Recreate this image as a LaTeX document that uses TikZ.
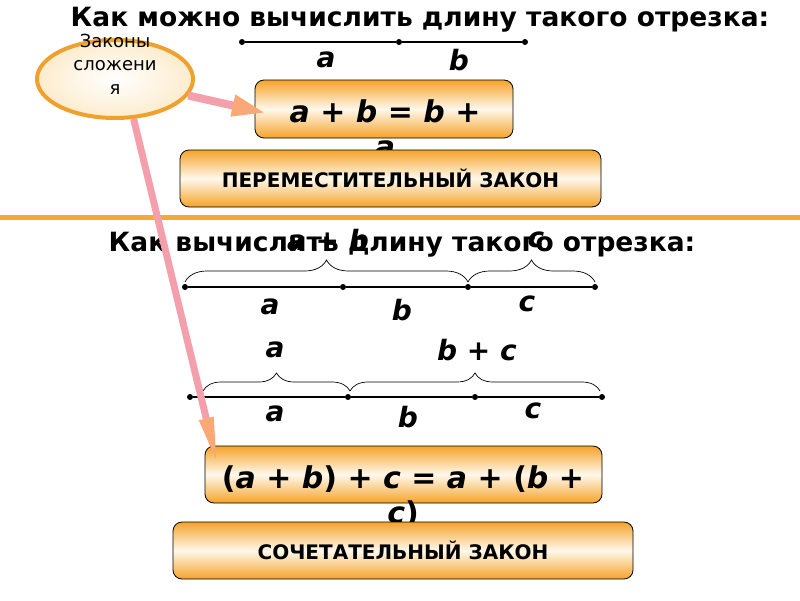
\documentclass[tikz,border=0pt]{standalone}
\usepackage{fontspec}
\setmainfont{DejaVu Sans}
\usetikzlibrary{arrows.meta}
\usetikzlibrary{shapes.geometric}
\usetikzlibrary{shadings}
\usetikzlibrary{decorations.pathreplacing}

\definecolor{rulerorange}{RGB}{243,168,58}
\definecolor{boxorange}{RGB}{245,163,42}
\definecolor{boxlight}{RGB}{255,248,236}
\definecolor{ringorange}{RGB}{240,160,45}
\definecolor{ringfill}{RGB}{252,236,205}
\definecolor{shaftpink}{RGB}{244,160,172}
\definecolor{headorange}{RGB}{249,168,118}

\tikzset{
  lawbox/.style={rectangle, rounded corners=9pt, draw=black, line width=0.8pt,
    top color=boxorange, bottom color=boxorange, middle color=boxlight, inner sep=0pt},
  lawname/.style={font=\bfseries\fontsize{20}{24}\selectfont},
  formula/.style={font=\bfseries\fontsize{30}{35}\selectfont, align=center, anchor=north, inner sep=0pt},
  question/.style={font=\bfseries\fontsize{26.5}{30}\selectfont},
  seglabel/.style={font=\bfseries\itshape\fontsize{28}{30}\selectfont},
  dot/.style={circle, fill=black, inner sep=0pt, minimum size=6pt},
  segline/.style={line width=2pt},
  brc/.style={decorate, decoration={brace, amplitude=#1}, line width=0.7pt},
  hint/.style={line width=8pt, draw=shaftpink}
}

\begin{document}
\begin{tikzpicture}[x=1pt, y=-1pt]
\useasboundingbox (0,0) rectangle (800,600);

% divider
\draw [line width=5pt, draw=rulerorange] (0,217) -- (800,217);

% the bubble
\node [ellipse, draw=ringorange, line width=4pt, inner color=white, outer color=ringfill,
  minimum width=156pt, minimum height=78pt] (laws) at (115,79) {};
\node [align=center, font=\fontsize{18}{23.5}\selectfont] (lawstext) at (115,64) {Законы\\сложени\\я};

% first question
\node [question] (q1) at (420,20) {Как можно вычислить длину такого отрезка:};
\node [dot] (t1) at (242,42) {};
\node [dot] (t2) at (399,42) {};
\node [dot] (t3) at (525,42) {};
\draw [segline] (t1) -- (t2) -- (t3);
\node [seglabel] (ta) at (326,60) {a};
\node [seglabel] (tb) at (459,60) {b};

% commutative law
\node [lawbox, minimum width=258pt, minimum height=58pt] (comm) at (384,109) {};
\node [formula] (commf) at (385,100) {\textit{a} + \textit{b} = \textit{b} +\\\textit{a}};
\node [lawbox, minimum width=421pt, minimum height=57pt] (commname) at (390.5,178.5) {};
\node [lawname] at (commname) {ПЕРЕМЕСТИТЕЛЬНЫЙ ЗАКОН};

% second question
\node [question] (q2) at (402,245) {Как вычислить длину такого отрезка:};

% first split: (a + b) + c
\node [dot] (r1) at (185,287) {};
\node [dot] (r2) at (343,287) {};
\node [dot] (r3) at (468,287) {};
\node [dot] (r4) at (595,287) {};
\draw [segline] (r1) -- (r2) -- (r3) -- (r4);
\draw [brc=22pt] (185,282) -- (468,282);
\draw [brc=22pt] (468,282) -- (595,282);
\node [seglabel] (ab) at (328,240) {a + b};
\node [seglabel] (cup) at (536,240) {c};
\node [seglabel] (ra) at (270,307) {a};
\node [seglabel] (rb) at (402,310) {b};
\node [seglabel] (rc) at (527,304) {c};

% second split: a + (b + c)
\node [dot] (s1) at (190,397) {};
\node [dot] (s2) at (348,397) {};
\node [dot] (s3) at (475,397) {};
\node [dot] (s4) at (602,397) {};
\draw [segline] (s1) -- (s2) -- (s3) -- (s4);
\draw [brc=18pt] (203,391) -- (350,391);
\draw [brc=18pt] (350,391) -- (600,391);
\node [seglabel] (aup) at (275,350) {a};
\node [seglabel] (bc) at (477,350) {b + c};
\node [seglabel] (sa) at (275,414) {a};
\node [seglabel] (sb) at (408,417) {b};
\node [seglabel] (sc) at (533,411) {c};

% associative law
\node [lawbox, minimum width=397pt, minimum height=57pt] (assoc) at (403.5,474.5) {};
\node [formula] (assocf) at (403,465) {(\textit{a} + \textit{b}) + \textit{c} = \textit{a} + (\textit{b} +\\\textit{c})};
\node [lawbox, minimum width=460pt, minimum height=57pt] (assocname) at (403,550.5) {};
\node [lawname] at (assocname) {СОЧЕТАТЕЛЬНЫЙ ЗАКОН};

% pointers from the bubble
\coordinate (commtip) at (266,113);
\coordinate (assoctip) at (218,467);
\draw [hint, -{Triangle[width=20pt, length=34pt, color=headorange]}] (laws) -- (commtip);
\draw [hint, line width=7pt, -{Triangle[width=13pt, length=50pt, color=headorange]}] (laws.-65) -- (assoctip);
\end{tikzpicture}
\end{document}
